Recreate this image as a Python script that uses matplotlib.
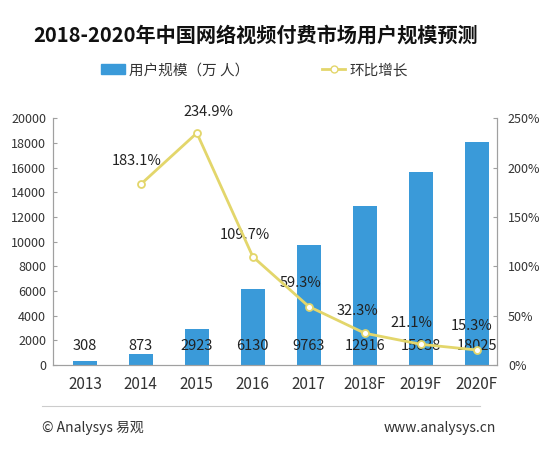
import numpy as np
import matplotlib.pyplot as plt
from matplotlib.lines import Line2D

plt.rcParams['font.family'] = ['Noto Sans CJK SC', 'DejaVu Sans']

years = ['2013', '2014', '2015', '2016', '2017', '2018F', '2019F', '2020F']
users = [308, 873, 2923, 6130, 9763, 12916, 15638, 18025]
growth_years = ['2014', '2015', '2016', '2017', '2018F', '2019F', '2020F']
growth = [183.1, 234.9, 109.7, 59.3, 32.3, 21.1, 15.3]

bar_color = '#3a9ad9'
line_color = '#e3d66b'
grey = '#a0a0a0'

fig = plt.figure(figsize=(5.48, 4.53), dpi=100)
ax = fig.add_axes([0.0967, 0.194, 0.81, 0.5453])
ax2 = ax.twinx()

x = np.arange(len(years))
ax.bar(x, users, width=0.43, color=bar_color, zorder=2)
ax.set_ylim(0, 20000)
ax.set_yticks(range(0, 20001, 2000))
ax.set_xlim(-0.57, 7.36)
ax.set_xticks(x)
ax.set_xticklabels(years, fontsize=11, color='#333333')
ax.tick_params(axis='x', length=0, pad=8)
ax.tick_params(axis='y', direction='in', length=3, labelsize=9, colors='#333333', pad=5)
ax.tick_params(axis='y', color=grey)

for i, v in enumerate(users):
    ax.annotate(str(v), (i, 0), xytext=(0, 14), textcoords='offset points',
                ha='center', va='center', fontsize=10.5, color='#222222', zorder=5)

gx = [years.index(g) for g in growth_years]
ax2.plot(gx, growth, color=line_color, lw=2, marker='o', ms=5,
         mfc='white', mec=line_color, mew=1.3, zorder=4)
ax2.set_ylim(0, 250)
ax2.set_yticks(range(0, 251, 50))
ax2.set_yticklabels([f'{v}%' for v in range(0, 251, 50)])
ax2.tick_params(axis='y', direction='in', length=3, labelsize=9, colors='#333333', pad=8)
ax2.tick_params(axis='y', color=grey)

offsets = [(-3, 17), (8, 15), (-6, 16), (-6, 17), (-5, 16), (-7, 15), (-4, 17)]
for xi, g, off in zip(gx, growth, offsets):
    ax2.annotate(f'{g}%', (xi, g), xytext=off, textcoords='offset points',
                 ha='center', va='center', fontsize=10.5, color='#222222')

for a in (ax, ax2):
    a.spines['top'].set_visible(False)
    a.spines['left'].set_color(grey)
    a.spines['right'].set_color(grey)
    a.spines['bottom'].set_color(grey)

fig.text(0.467, 0.922, '2018-2020年中国网络视频付费市场用户规模预测', ha='center', va='center',
         fontsize=14.5, fontweight='bold', color='#111111')

handles = [plt.Rectangle((0, 0), 1, 1, color=bar_color),
           Line2D([], [], color=line_color, lw=2, marker='o', ms=5, mfc='white', mec=line_color)]
fig.legend(handles, ['用户规模（万 人）', '环比增长'], loc='center', bbox_to_anchor=(0.465, 0.845),
           ncol=2, frameon=False, fontsize=10.5, columnspacing=5, handlelength=1.6,
           handletextpad=0.3, labelcolor='#333333')

fig.add_artist(Line2D([0.077, 0.876], [0.104, 0.104], color='#cccccc', lw=0.8))
fig.text(0.077, 0.055, '© Analysys 易观', fontsize=10, va='center', color='#333333')
fig.text(0.70, 0.055, 'www.analysys.cn', fontsize=10, va='center', color='#333333')

fig.savefig('out.png', dpi=100)
